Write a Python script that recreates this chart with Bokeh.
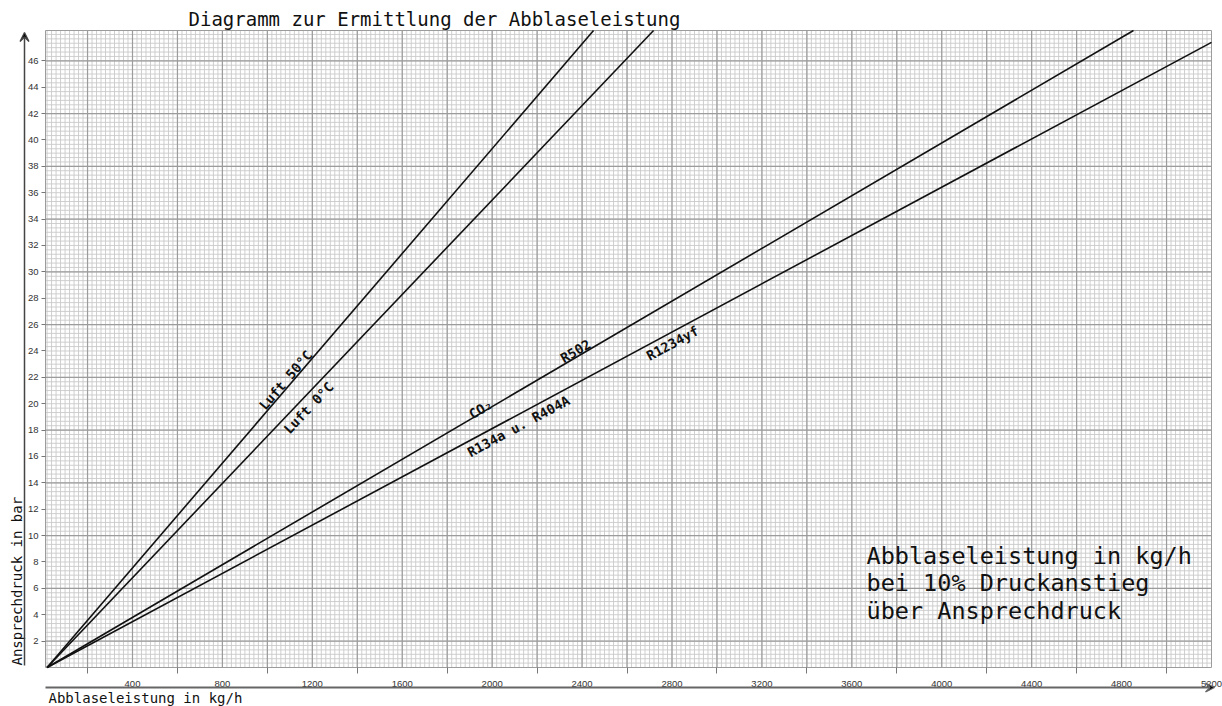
import numpy as np
from bokeh.plotting import figure
from bokeh.models import Range1d, FixedTicker, Label, Arrow, VeeHead, ColumnDataSource
from bokeh.core.properties import value
from bokeh.embed import file_html
from bokeh.resources import INLINE

# ---------------- data ----------------
series_names = ["Luft 50°C", "Luft 0°C", "CO₂ / R502", "R134a u. R404A / R1234yf"]
line_x_start = [20, 20, 20, 20]
line_y_start = [0, 0, 0, 0]
line_x_end = [2451, 2718, 4853, 5200]
line_y_end = [48.3, 48.3, 48.3, 47.4]

label_texts = ["Luft 50°C", "Luft 0°C", "CO₂", "R502", "R134a u. R404A", "R1234yf"]
label_x = [1081, 1183, 1948, 2371, 2117, 2802]
label_y = [21.8, 19.7, 19.6, 24.0, 18.3, 24.6]
label_line = [0, 1, 2, 2, 3, 3]

x_major_ticks = list(range(400, 5201, 400))
x_minor_ticks = list(range(200, 5001, 400))
y_ticks = list(range(2, 47, 2))

title_text = "Diagramm zur Ermittlung der Abblaseleistung"
x_title = "Abblaseleistung in kg/h"
y_title = "Ansprechdruck in bar"
note_lines = ["Abblaseleistung in kg/h", "bei 10% Druckanstieg", "über Ansprechdruck"]

# ---------------- layout ----------------
W, H = 1222, 706
GL, GR, GT, GB = 45, 1211, 30, 667          # graph area in canvas pixels
X0, X1 = 13, 5200
Y0, Y1 = 0, 48.3
sx = (X1 - X0) / (GR - GL)
sy = (Y1 - Y0) / (GB - GT)
x_lo, x_hi = X0 - GL * sx, X1 + (W - GR) * sx
y_lo, y_hi = Y0 - (H - GB) * sy, Y1 + GT * sy


def dx(px):
    return x_lo + px * sx


def dy(py):
    return y_hi - py * sy


p = figure(width=W, height=H, x_range=Range1d(x_lo, x_hi), y_range=Range1d(y_lo, y_hi),
           output_backend="svg", toolbar_location=None, title=None,
           min_border=0, min_border_left=0, min_border_right=0,
           min_border_top=0, min_border_bottom=0,
           background_fill_color="white", border_fill_color="white")
p.outline_line_color = None
p.xgrid.visible = False
p.ygrid.visible = False

# graph paper (inside the graph area only)
vmin = np.arange(X0 - X0 % 20 + 20, X1, 20)
vmaj = np.arange(200, X1, 200)
hmin = np.arange(1 / 3, Y1, 1 / 3)
hmaj = np.arange(2, Y1, 4)
p.segment(x0=vmin, y0=Y0, x1=vmin, y1=Y1, line_color="#c9c9c9", line_width=0.9)
p.segment(x0=X0, y0=hmin, x1=X1, y1=hmin, line_color="#c9c9c9", line_width=0.9)
p.segment(x0=vmaj, y0=Y0, x1=vmaj, y1=Y1, line_color="#9c9c9c", line_width=1.2)
p.segment(x0=X0, y0=hmaj, x1=X1, y1=hmaj, line_color="#9c9c9c", line_width=1.2)
p.quad(left=X0, right=X1, bottom=Y0, top=Y1, fill_color=None,
       line_color="#9c9c9c", line_width=1)

# axes, fixed at the graph edges
xa = p.xaxis[0]
xa.fixed_location = Y0
xa.ticker = FixedTicker(ticks=x_major_ticks, minor_ticks=x_minor_ticks)
xa.axis_line_color = None
xa.major_tick_out = 0
xa.major_tick_in = 0
xa.minor_tick_out = 6
xa.minor_tick_in = 0
xa.minor_tick_line_color = "#777777"
xa.major_label_standoff = 7
xa.major_label_text_font = "Liberation Sans"
xa.major_label_text_font_size = "9.5px"
xa.major_label_text_color = "#333333"

ya = p.yaxis[0]
ya.fixed_location = X0
ya.ticker = FixedTicker(ticks=y_ticks)
ya.axis_line_color = None
ya.major_tick_out = 4
ya.major_tick_in = 0
ya.major_tick_line_color = "#777777"
ya.minor_tick_out = 0
ya.minor_tick_in = 0
ya.major_label_standoff = 3
ya.major_label_text_font = "Liberation Sans"
ya.major_label_text_font_size = "9.5px"
ya.major_label_text_color = "#333333"

# curves (clipped to the graph area at the top)
cx1, cy1 = [], []
for xs, ys, xe, ye in zip(line_x_start, line_y_start, line_x_end, line_y_end):
    cx1.append(xe)
    cy1.append(ye)
src = ColumnDataSource(dict(x0=line_x_start, y0=line_y_start, x1=cx1, y1=cy1,
                            name=series_names))
p.segment(x0="x0", y0="y0", x1="x1", y1="y1", source=src, line_color="#111111", line_width=1.6)

# rotated curve labels, angle follows the screen slope of their curve
angles = []
for i in label_line:
    slope = (line_y_end[i] - line_y_start[i]) / (line_x_end[i] - line_x_start[i])
    angles.append(float(np.arctan(slope * sx / sy)))
lsrc = ColumnDataSource(dict(x=label_x, y=label_y, text=label_texts, angle=angles))
p.text(x="x", y="y", text="text", angle="angle", source=lsrc,
       text_align="center", text_baseline="middle",
       text_font=value("DejaVu Sans Mono"), text_font_style="bold",
       text_font_size="13.5px", text_color="#111111")

# note block
for i, t in enumerate(note_lines):
    p.add_layout(Label(x=dx(866), y=dy(555 + 27.5 * i), text=t, text_align="left",
                       text_baseline="middle", text_font="DejaVu Sans Mono",
                       text_font_size="23.5px", text_color="#111111"))

# titles
p.add_layout(Label(x=dx(188), y=dy(18), text=title_text, text_align="left",
                   text_baseline="middle", text_font="DejaVu Sans Mono",
                   text_font_size="19px", text_color="#111111"))
p.add_layout(Label(x=dx(48), y=dy(697), text=x_title, text_align="left",
                   text_baseline="middle", text_font="DejaVu Sans Mono",
                   text_font_size="14px", text_color="#111111"))
p.add_layout(Label(x=dx(16), y=dy(665), text=y_title, angle=np.pi / 2, text_align="left",
                   text_baseline="middle", text_font="DejaVu Sans Mono",
                   text_font_size="14px", text_color="#111111"))

# axis arrows
p.add_layout(Arrow(end=VeeHead(size=9, line_color="#444444", line_width=1.3),
                   x_start=dx(24), y_start=dy(665), x_end=dx(24), y_end=dy(32),
                   line_color="#444444", line_width=1.5))
p.add_layout(Arrow(end=VeeHead(size=9, line_color="#666666", line_width=1.3),
                   x_start=dx(45), y_start=dy(687), x_end=dx(1214), y_end=dy(687),
                   line_color="#666666", line_width=2))

open("out.html", "w").write(file_html(p, INLINE))
